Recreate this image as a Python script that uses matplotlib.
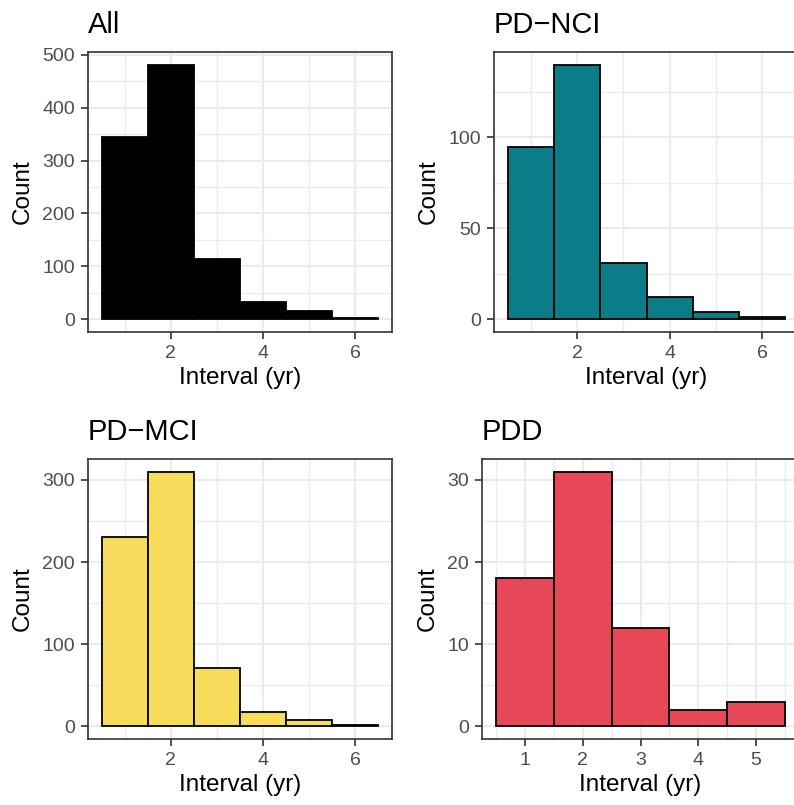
"""Four-panel histogram of follow-up intervals by cognitive group (ggplot theme_bw look)."""
import matplotlib
matplotlib.use("Agg")
import matplotlib.pyplot as plt
from matplotlib.ticker import MultipleLocator

plt.rcParams["font.family"] = ["Liberation Sans", "DejaVu Sans"]

# bin centres (binwidth 1 yr) and counts per group
bins_long = [1, 2, 3, 4, 5, 6]
bins_pdd = [1, 2, 3, 4, 5]
counts_all = [345, 481, 114, 32, 16, 3]
counts_nci = [95, 140, 31, 12, 4, 1]
counts_mci = [231, 310, 71, 17, 8, 1]
counts_pdd = [18, 31, 12, 2, 3]

titles = ["All", "PD\u2212NCI", "PD\u2212MCI", "PDD"]
fills = ["black", "#0B7D89", "#F7DC5C", "#E64858"]

GRID = "#EBEBEB"
DARK = "#333333"
TICKTXT = "#4D4D4D"

W, H = 794, 805
# panel rectangles in pixels: left, top, right, bottom
boxes = [(88, 52, 392, 332), (494, 52, 799, 332),
         (88, 459, 392, 739), (482, 459, 799, 739)]


def _panel(fig, box, x, y, fill, title, xmaj, xmin, ymaj, ymin):
    l, t, r, b = box
    ax = fig.add_axes([l / W, 1 - b / H, (r - l) / W, (b - t) / H])
    ax.set_axisbelow(True)
    ax.bar(x, y, width=1.0, color=fill, edgecolor="black", linewidth=1.3, zorder=3)
    lo, hi = min(x) - 0.5, max(x) + 0.5
    pad = 0.05 * (hi - lo)
    ax.set_xlim(lo - pad, hi + pad)
    ax.set_ylim(-0.05 * max(y), 1.05 * max(y))
    ax.xaxis.set_major_locator(MultipleLocator(xmaj))
    ax.xaxis.set_minor_locator(MultipleLocator(xmaj / 2, offset=xmin))
    ax.yaxis.set_major_locator(MultipleLocator(ymaj))
    ax.yaxis.set_minor_locator(MultipleLocator(ymin, offset=ymin / 2))
    ax.grid(which="major", color=GRID, linewidth=1.5)
    ax.grid(which="minor", color=GRID, linewidth=1.0)
    for s in ax.spines.values():
        s.set_color(DARK)
        s.set_linewidth(1.2)
    ax.tick_params(which="major", length=5, width=1.2, color=DARK,
                   labelcolor=TICKTXT, labelsize=14)
    ax.tick_params(axis="x", which="major", pad=4)
    ax.tick_params(axis="y", which="major", pad=4.5)
    ax.tick_params(which="minor", length=0)
    ax.set_xlabel("Interval (yr)", fontsize=17.5, labelpad=4)
    ax.set_ylabel("Count", fontsize=17.5, labelpad=6)
    ax.set_title(title, loc="left", fontsize=21, pad=14)
    return ax


fig = plt.figure(figsize=(W / 100, H / 100), dpi=100)
_panel(fig, boxes[0], bins_long, counts_all, fills[0], titles[0], 2, 1, 100, 100)
_panel(fig, boxes[1], bins_long, counts_nci, fills[1], titles[1], 2, 1, 50, 50)
_panel(fig, boxes[2], bins_long, counts_mci, fills[2], titles[2], 2, 1, 100, 100)
_panel(fig, boxes[3], bins_pdd, counts_pdd, fills[3], titles[3], 1, 0.5, 10, 10)
fig.savefig("out.png", dpi=100)
